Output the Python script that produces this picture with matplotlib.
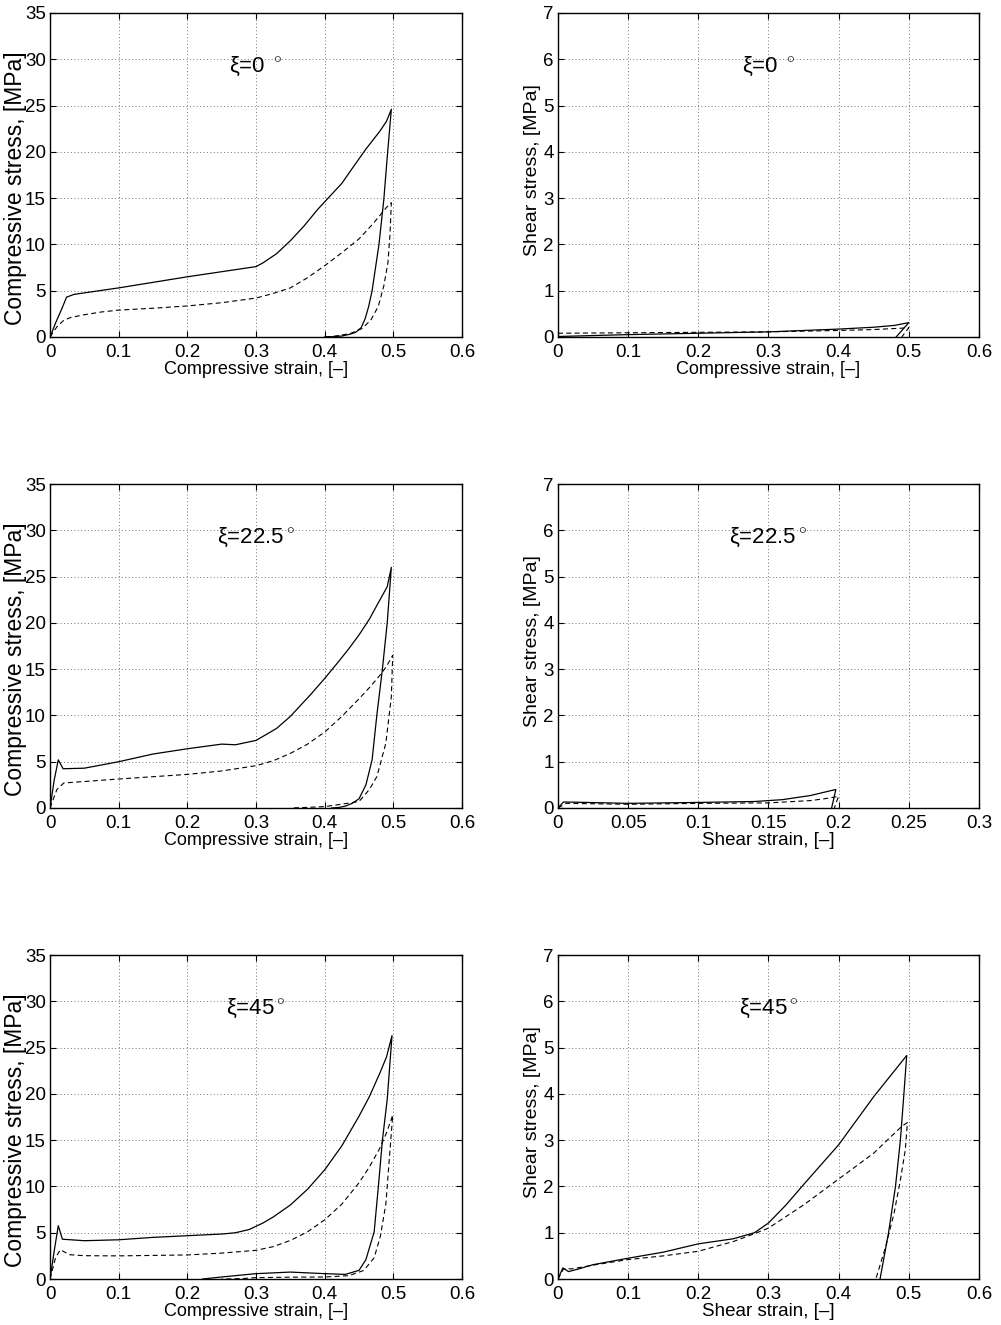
"""
plot.py
-------
Compressive and shear stress-strain loops (loading / unloading) for three
loading angles xi = 0, 22.5 and 45 degrees.
Solid = one specimen set, dashed = the other. Saved as out.png.
"""

import numpy as np
import matplotlib
matplotlib.use("Agg")
import matplotlib.pyplot as plt
from matplotlib.ticker import FuncFormatter

plt.rcParams["font.family"] = ["Liberation Sans", "DejaVu Sans"]
plt.rcParams["mathtext.fontset"] = "custom"
plt.rcParams["mathtext.rm"] = "Liberation Sans"

# ── xi = 0 deg, compressive ────────────────────────────────────────────────
c0_solid_x = [0, 0.008, 0.018, 0.024, 0.035, 0.1, 0.15, 0.2, 0.25, 0.3, 0.31, 0.33,
              0.35, 0.37, 0.39, 0.4, 0.425, 0.44, 0.46, 0.48, 0.49, 0.497,
              0.491, 0.486, 0.479, 0.474, 0.469, 0.464, 0.459, 0.453, 0.445, 0.437,
              0.425, 0.41, 0.40]
c0_solid_y = [0, 1.5, 3.2, 4.3, 4.6, 5.3, 5.9, 6.5, 7.05, 7.6, 8.0, 9.0,
              10.4, 12.0, 13.8, 14.6, 16.6, 18.2, 20.3, 22.2, 23.3, 24.6,
              19.4, 14.8, 10.0, 7.5, 5.0, 3.3, 2.0, 1.0, 0.5, 0.3,
              0.1, 0.02, 0]
c0_dash_x = [0, 0.01, 0.02, 0.03, 0.05, 0.075, 0.1, 0.15, 0.2, 0.25, 0.3, 0.325,
             0.35, 0.375, 0.4, 0.425, 0.45, 0.47, 0.49, 0.497,
             0.495, 0.492, 0.486, 0.478, 0.467, 0.454, 0.437, 0.413, 0.40]
c0_dash_y = [0, 1.1, 1.8, 2.1, 2.4, 2.7, 2.9, 3.1, 3.35, 3.7, 4.2, 4.7,
             5.3, 6.4, 7.7, 9.1, 10.6, 12.2, 14.0, 14.5,
             11.0, 8.0, 5.5, 3.3, 1.8, 0.9, 0.36, 0.07, 0]

# ── xi = 0 deg, shear ──────────────────────────────────────────────────────
s0_solid_x = [0, 0.1, 0.2, 0.3, 0.4, 0.45, 0.48, 0.5, 0.482]
s0_solid_y = [0.01, 0.05, 0.08, 0.11, 0.17, 0.21, 0.25, 0.31, 0]
s0_dash_x = [0, 0.1, 0.2, 0.3, 0.4, 0.45, 0.49, 0.5, 0.49]
s0_dash_y = [0.08, 0.09, 0.1, 0.11, 0.14, 0.16, 0.19, 0.2, 0]

# ── xi = 22.5 deg, compressive ─────────────────────────────────────────────
c22_solid_x = [0, 0.006, 0.012, 0.019, 0.05, 0.1, 0.15, 0.2, 0.25, 0.27, 0.3, 0.33,
               0.35, 0.36, 0.38, 0.4, 0.42, 0.435, 0.45, 0.465, 0.479, 0.491, 0.497,
               0.491, 0.484, 0.476, 0.469, 0.46, 0.45, 0.44, 0.43, 0.42, 0.41]
c22_solid_y = [0, 3.0, 5.2, 4.24, 4.3, 5.0, 5.83, 6.4, 6.9, 6.83, 7.3, 8.6,
               9.9, 10.7, 12.3, 14.0, 15.8, 17.2, 18.7, 20.4, 22.3, 23.9, 26.0,
               20.0, 15.0, 10.1, 5.2, 2.5, 1.0, 0.5, 0.2, 0.05, 0]
c22_dash_x = [0, 0.01, 0.02, 0.1, 0.2, 0.25, 0.3, 0.325, 0.35, 0.375, 0.4, 0.425,
              0.45, 0.465, 0.48, 0.49, 0.499,
              0.497, 0.489, 0.476, 0.465, 0.45, 0.42, 0.4, 0.37, 0.35]
c22_dash_y = [0, 2.0, 2.7, 3.13, 3.63, 4.0, 4.57, 5.1, 5.9, 6.9, 8.2, 9.9,
              11.8, 13.0, 14.3, 15.3, 16.5,
              12.0, 7.0, 3.4, 2.0, 0.7, 0.36, 0.15, 0.05, 0]

# ── xi = 22.5 deg, shear ───────────────────────────────────────────────────
s22_solid_x = [0, 0.004, 0.02, 0.05, 0.1, 0.14, 0.16, 0.18, 0.198, 0.195]
s22_solid_y = [0, 0.13, 0.12, 0.1, 0.12, 0.14, 0.18, 0.27, 0.4, 0]
s22_dash_x = [0, 0.006, 0.05, 0.1, 0.15, 0.18, 0.19, 0.2, 0.198, 0.197]
s22_dash_y = [0, 0.1, 0.08, 0.1, 0.11, 0.16, 0.2, 0.25, 0.1, 0]

# ── xi = 45 deg, compressive ───────────────────────────────────────────────
c45_solid_x = [0, 0.006, 0.012, 0.018, 0.05, 0.1, 0.15, 0.2, 0.25, 0.27, 0.29, 0.31,
               0.325, 0.35, 0.375, 0.4, 0.425, 0.45, 0.465, 0.48, 0.49, 0.498,
               0.491, 0.484, 0.478, 0.472, 0.46, 0.45, 0.43, 0.4, 0.35, 0.3, 0.25, 0.222]
c45_solid_y = [0, 3.0, 5.76, 4.3, 4.14, 4.24, 4.5, 4.68, 4.86, 5.0, 5.35, 6.05,
               6.7, 8.0, 9.7, 11.8, 14.4, 17.6, 19.7, 22.2, 24.0, 26.3,
               19.4, 15.0, 9.9, 5.1, 2.1, 0.94, 0.5, 0.58, 0.75, 0.58, 0.22, 0]
c45_dash_x = [0, 0.008, 0.015, 0.028, 0.05, 0.1, 0.2, 0.25, 0.3, 0.325, 0.35, 0.375,
              0.4, 0.425, 0.45, 0.465, 0.48, 0.49, 0.499,
              0.494, 0.489, 0.481, 0.472, 0.457, 0.435, 0.4, 0.35, 0.3, 0.28, 0.25]
c45_dash_y = [0, 2.3, 3.17, 2.63, 2.52, 2.5, 2.6, 2.8, 3.1, 3.5, 4.17, 5.1,
              6.4, 8.1, 10.4, 12.1, 14.1, 15.8, 17.7,
              12.9, 8.1, 4.6, 2.3, 0.93, 0.36, 0.22, 0.2, 0.15, 0.05, 0]

# ── xi = 45 deg, shear ─────────────────────────────────────────────────────
s45_solid_x = [0, 0.007, 0.015, 0.03, 0.05, 0.1, 0.15, 0.2, 0.25, 0.28, 0.3, 0.325,
               0.35, 0.4, 0.45, 0.497,
               0.493, 0.488, 0.481, 0.471, 0.459]
s45_solid_y = [0, 0.24, 0.16, 0.22, 0.31, 0.45, 0.58, 0.76, 0.87, 1.0, 1.21, 1.6,
               2.04, 2.9, 3.94, 4.83,
               4.0, 3.0, 2.0, 0.99, 0]
s45_dash_x = [0, 0.008, 0.02, 0.05, 0.1, 0.15, 0.2, 0.25, 0.28, 0.3, 0.35, 0.4,
              0.45, 0.49, 0.498,
              0.495, 0.488, 0.479, 0.467, 0.453]
s45_dash_y = [0, 0.22, 0.22, 0.3, 0.42, 0.5, 0.6, 0.81, 0.98, 1.1, 1.6, 2.16,
              2.72, 3.3, 3.38,
              2.79, 2.14, 1.42, 0.7, 0]

angles = ["0", "22.5", "45"]

LEFT_X, LEFT_W = 0.050, 0.4116
RIGHT_X, RIGHT_W = 0.5574, 0.4206
ROW_Y = [0.7457, 0.3902, 0.0347]
ROW_H = 0.2445

DASH = (0, (4.5, 3))


def style_axes(ax, xmax, xstep, ymax, ystep):
    """MATLAB-like box with inward ticks on all sides and dotted grid."""
    ax.set_xlim(0, xmax)
    ax.set_ylim(0, ymax)
    ax.set_xticks(np.arange(0, xmax + xstep / 2, xstep))
    ax.set_yticks(np.arange(0, ymax + ystep / 2, ystep))
    fmt = FuncFormatter(lambda v, p: f"{v:g}")
    ax.xaxis.set_major_formatter(fmt)
    ax.yaxis.set_major_formatter(fmt)
    ax.tick_params(direction="in", top=True, right=True, length=4, width=0.8,
                   labelsize=13.5, pad=3)
    ax.tick_params(axis="x", pad=5)
    ax.grid(True, linestyle=(0, (1, 2.5)), color="0.45", linewidth=0.7)
    for sp in ax.spines.values():
        sp.set_linewidth(1.0)


def draw_panel(ax, solid, dashed, label):
    ax.plot(solid[0], solid[1], color="black", lw=0.9)
    ax.plot(dashed[0], dashed[1], color="black", lw=0.8, linestyle=DASH)
    ax.text(0.5, 0.835, label, transform=ax.transAxes, ha="center", va="center",
            fontsize=16)


fig = plt.figure(figsize=(10.01, 13.25), dpi=100)

comp_data = [
    ((c0_solid_x, c0_solid_y), (c0_dash_x, c0_dash_y)),
    ((c22_solid_x, c22_solid_y), (c22_dash_x, c22_dash_y)),
    ((c45_solid_x, c45_solid_y), (c45_dash_x, c45_dash_y)),
]
shear_data = [
    ((s0_solid_x, s0_solid_y), (s0_dash_x, s0_dash_y)),
    ((s22_solid_x, s22_solid_y), (s22_dash_x, s22_dash_y)),
    ((s45_solid_x, s45_solid_y), (s45_dash_x, s45_dash_y)),
]

for i, ang in enumerate(angles):
    if ang == "0":
        label = r"ξ=0 $^\circ$"
    else:
        label = "ξ=" + ang + r"$^\circ$"

    # left: compressive
    ax = fig.add_axes([LEFT_X, ROW_Y[i], LEFT_W, ROW_H])
    style_axes(ax, 0.6, 0.1, 35, 5)
    draw_panel(ax, comp_data[i][0], comp_data[i][1], label)
    ax.set_ylabel("Compressive stress, [MPa]", fontsize=16.5)
    ax.yaxis.set_label_coords(-0.056, 0.46)
    ax.set_xlabel("Compressive strain, [–]", fontsize=13)
    ax.xaxis.set_label_coords(0.5, -0.074)

    # right: shear
    ax = fig.add_axes([RIGHT_X, ROW_Y[i], RIGHT_W, ROW_H])
    if i == 1:
        style_axes(ax, 0.3, 0.05, 7, 1)
    else:
        style_axes(ax, 0.6, 0.1, 7, 1)
    draw_panel(ax, shear_data[i][0], shear_data[i][1], label)
    ax.set_ylabel("Shear stress, [MPa]", fontsize=14)
    ax.yaxis.set_label_coords(-0.040, 0.514)
    if i == 0:
        ax.set_xlabel("Compressive strain, [–]", fontsize=13)
    else:
        ax.set_xlabel("Shear strain, [–]", fontsize=13.5)
    ax.xaxis.set_label_coords(0.5, -0.074)

fig.savefig("out.png", dpi=100)
